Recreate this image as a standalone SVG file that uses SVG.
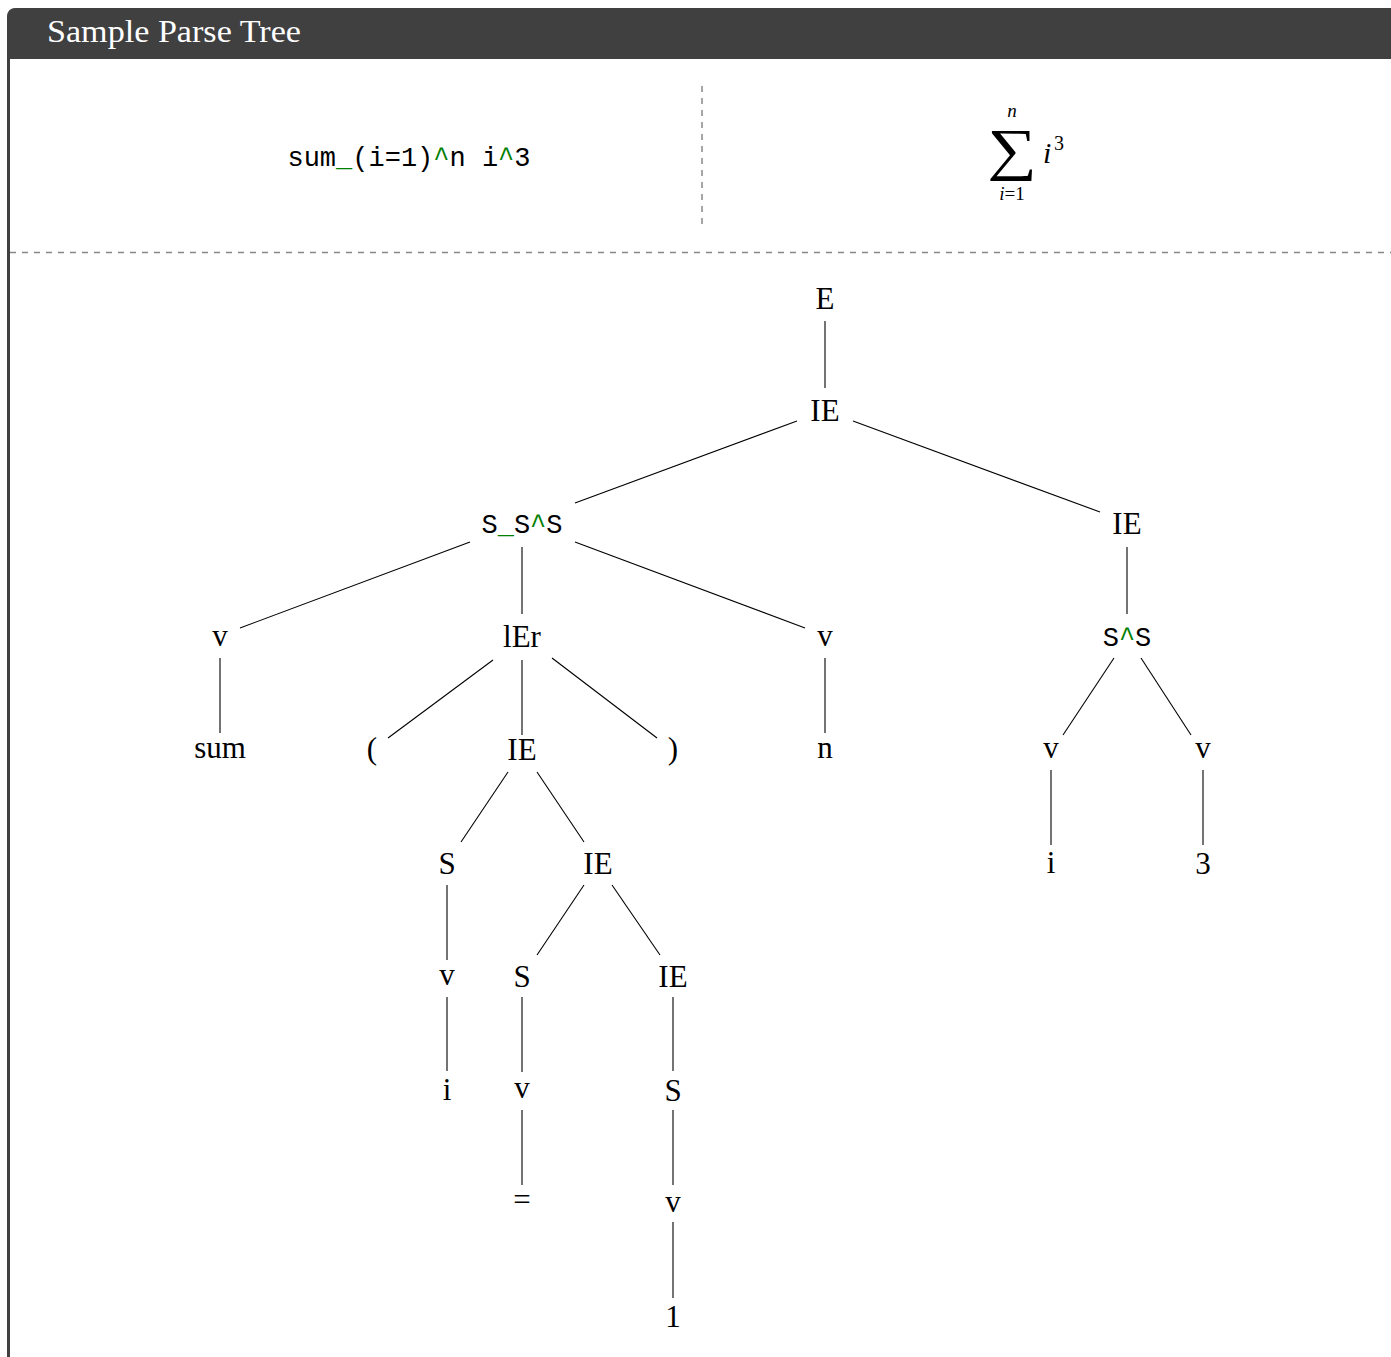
<svg xmlns="http://www.w3.org/2000/svg" width="1391" height="1357" viewBox="0 0 1391 1357">
<style>
.lbl{font-family:"Liberation Serif","Times New Roman",serif;font-size:31px;fill:#000;text-anchor:middle}
.mono{font-family:"Liberation Mono","Courier New",monospace;font-size:27px;fill:#000}
.g{fill:#008000}
.edge{stroke:#000;stroke-width:1.1;fill:none}
.dash{stroke:#888;stroke-width:1.5;stroke-dasharray:6 6;fill:none}
.mi{font-family:"Liberation Serif","Times New Roman",serif;font-style:italic;fill:#000}
.mr{font-family:"Liberation Serif","Times New Roman",serif;fill:#000}
</style>
<rect width="1391" height="1357" fill="#fff"/>
<g id="frame">
<rect x="8.5" y="9.5" width="1400" height="1360" rx="8" ry="8" fill="#fff" stroke="#404040" stroke-width="3"/>
<path d="M7 59 V17 Q7 8 16 8 H1391 V59 Z" fill="#404040"/>
<text x="47" y="42" font-family="Liberation Serif, Times New Roman, serif" font-size="31" fill="#fff" textLength="254" lengthAdjust="spacingAndGlyphs">Sample Parse Tree</text>
</g>
<g id="separators">
<line class="dash" x1="702" y1="86" x2="702" y2="228"/>
<line class="dash" x1="10" y1="252.5" x2="1391" y2="252.5"/>
</g>
<g id="source">
<text class="mono" x="409" y="166" text-anchor="middle">sum<tspan class="g">_</tspan>(i=1)<tspan class="g">^</tspan>n i<tspan class="g">^</tspan>3</text>
</g>
<g id="rendered">
<text class="mr" font-size="58" text-anchor="middle" transform="translate(1012 169) scale(1.2 1)">∑</text>
<text class="mi" x="1012" y="117" font-size="19" text-anchor="middle">n</text>
<text class="mi" x="1012" y="200" font-size="19" text-anchor="middle">i<tspan class="mr" font-style="normal">=1</tspan></text>
<text class="mi" x="1043" y="163" font-size="30">i</text>
<text class="mr" x="1054" y="150" font-size="20">3</text>
</g>
<g id="connectors">
<line class="edge" x1="825" y1="321" x2="825" y2="388"/>
<line class="edge" x1="797" y1="421" x2="575" y2="503"/>
<line class="edge" x1="853" y1="421" x2="1100" y2="512"/>
<line class="edge" x1="470" y1="542" x2="240" y2="628"/>
<line class="edge" x1="522" y1="547" x2="522" y2="614"/>
<line class="edge" x1="575" y1="542" x2="805" y2="628"/>
<line class="edge" x1="1127" y1="547" x2="1127" y2="614"/>
<line class="edge" x1="220" y1="658" x2="220" y2="733"/>
<line class="edge" x1="493" y1="660" x2="388" y2="738"/>
<line class="edge" x1="522" y1="660" x2="522" y2="735"/>
<line class="edge" x1="552" y1="658" x2="657" y2="738"/>
<line class="edge" x1="825" y1="658" x2="825" y2="733"/>
<line class="edge" x1="1114" y1="658" x2="1063" y2="735"/>
<line class="edge" x1="1141" y1="658" x2="1191" y2="735"/>
<line class="edge" x1="508" y1="772" x2="461" y2="842"/>
<line class="edge" x1="537" y1="772" x2="584" y2="842"/>
<line class="edge" x1="1051" y1="770" x2="1051" y2="845"/>
<line class="edge" x1="1203" y1="770" x2="1203" y2="845"/>
<line class="edge" x1="447" y1="885" x2="447" y2="960"/>
<line class="edge" x1="584" y1="885" x2="537" y2="955"/>
<line class="edge" x1="612" y1="885" x2="660" y2="955"/>
<line class="edge" x1="447" y1="997" x2="447" y2="1071"/>
<line class="edge" x1="522" y1="997" x2="522" y2="1072"/>
<line class="edge" x1="673" y1="997" x2="673" y2="1071"/>
<line class="edge" x1="522" y1="1110" x2="522" y2="1185"/>
<line class="edge" x1="673" y1="1110" x2="673" y2="1185"/>
<line class="edge" x1="673" y1="1222" x2="673" y2="1298"/>
</g>
<g id="n-E"><text class="lbl" x="825" y="309">E</text></g>
<g id="n-IE1"><text class="lbl" x="825" y="421">IE</text></g>
<g id="n-SSS"><text class="mono" x="522" y="533" text-anchor="middle">S<tspan class="g">_</tspan>S<tspan class="g">^</tspan>S</text></g>
<g id="n-IE2"><text class="lbl" x="1127" y="534">IE</text></g>
<g id="n-v1"><text class="lbl" x="220" y="646">v</text></g>
<g id="n-lEr"><text class="lbl" x="522" y="647">lEr</text></g>
<g id="n-v2"><text class="lbl" x="825" y="646">v</text></g>
<g id="n-SS"><text class="mono" x="1127" y="646" text-anchor="middle">S<tspan class="g">^</tspan>S</text></g>
<g id="n-sum"><text class="lbl" x="220" y="758">sum</text></g>
<g id="n-lp"><text class="lbl" x="372" y="759">(</text></g>
<g id="n-IE3"><text class="lbl" x="522" y="760">IE</text></g>
<g id="n-rp"><text class="lbl" x="673" y="759">)</text></g>
<g id="n-n"><text class="lbl" x="825" y="758">n</text></g>
<g id="n-v3"><text class="lbl" x="1051" y="758">v</text></g>
<g id="n-v4"><text class="lbl" x="1203" y="758">v</text></g>
<g id="n-S1"><text class="lbl" x="447" y="874">S</text></g>
<g id="n-IE4"><text class="lbl" x="598" y="874">IE</text></g>
<g id="n-i1"><text class="lbl" x="1051" y="873">i</text></g>
<g id="n-3"><text class="lbl" x="1203" y="874">3</text></g>
<g id="n-v5"><text class="lbl" x="447" y="985">v</text></g>
<g id="n-S2"><text class="lbl" x="522" y="987">S</text></g>
<g id="n-IE5"><text class="lbl" x="673" y="987">IE</text></g>
<g id="n-i2"><text class="lbl" x="447" y="1100">i</text></g>
<g id="n-v6"><text class="lbl" x="522" y="1098">v</text></g>
<g id="n-S3"><text class="lbl" x="673" y="1101">S</text></g>
<g id="n-eq"><text class="lbl" x="522" y="1210">=</text></g>
<g id="n-v7"><text class="lbl" x="673" y="1212">v</text></g>
<g id="n-1"><text class="lbl" x="673" y="1327">1</text></g>
</svg>
